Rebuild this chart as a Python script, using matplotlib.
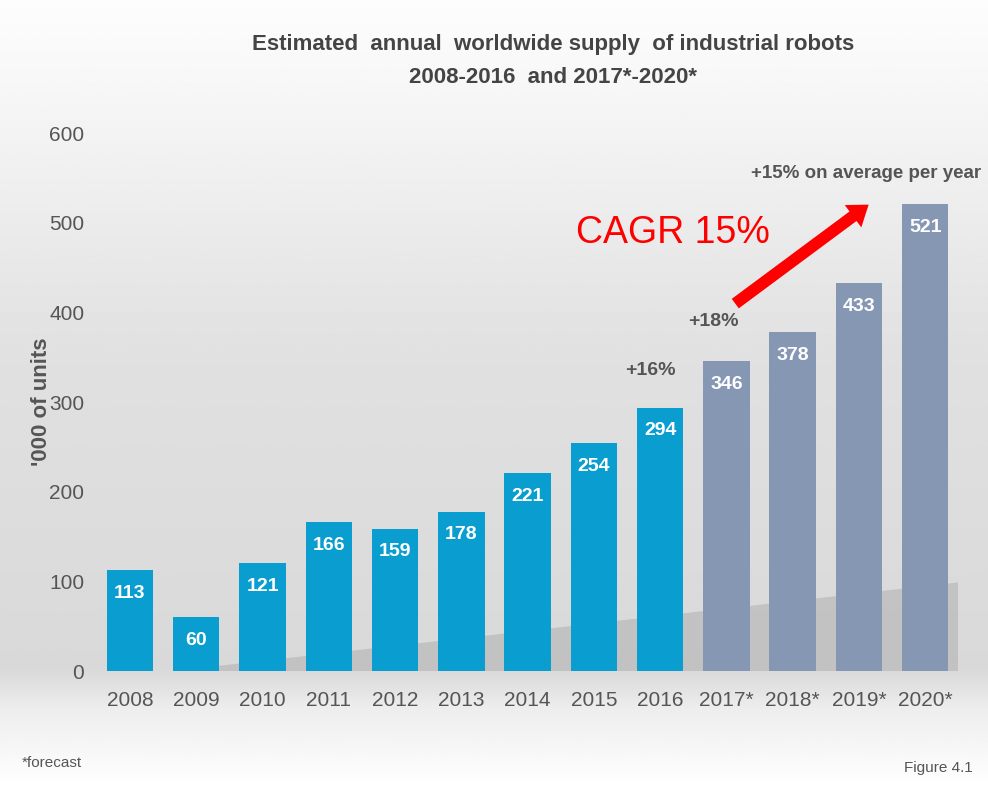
import numpy as np
import matplotlib
matplotlib.use("Agg")
import matplotlib.pyplot as plt

years = ["2008", "2009", "2010", "2011", "2012", "2013", "2014",
         "2015", "2016", "2017*", "2018*", "2019*", "2020*"]
units = [113, 60, 121, 166, 159, 178, 221, 254, 294, 346, 378, 433, 521]
forecast = [False] * 9 + [True] * 4
y_ticks = [0, 100, 200, 300, 400, 500, 600]

plt.rcParams['font.family'] = ['Liberation Sans', 'DejaVu Sans']

fig = plt.figure(figsize=(9.88, 7.87), dpi=100)

# soft grey background gradient behind everything
bg = fig.add_axes([0, 0, 1, 1], zorder=0)
rows = np.linspace(0, 1, 400)
shade = np.interp(rows, [0, 0.1, 0.45, 0.85, 0.9, 1.0],
                  [0.99, 0.97, 0.88, 0.85, 0.93, 1.0])
bg.imshow(np.tile(shade[:, None], (1, 10)), cmap="gray", vmin=0, vmax=1,
          aspect="auto", extent=[0, 1, 0, 1], origin="upper")
bg.axis("off")

ax = fig.add_axes([0.098, 0.147, 0.872, 0.684], zorder=1)
ax.patch.set_alpha(0)

x = np.arange(len(years))
colors = ["#8597B2" if f else "#0A9ED0" for f in forecast]

# diagonal shadow behind bars
ax.fill([0.6, 12.6, 12.6, 1.5], [0, 100, 0, 0], color="#a0a0a0", alpha=0.4,
        lw=0, zorder=1)

ax.bar(x, units, width=0.7, color=colors, zorder=2)
for xi, v in zip(x, units):
    ax.text(xi, v - 26, str(v), ha="center", va="center", color="white",
            fontsize=14, fontweight="bold", zorder=3)

ax.set_xlim(-0.5, len(years) - 0.5)
ax.set_ylim(0, 600)
ax.set_yticks(y_ticks)
ax.set_xticks(x)
ax.set_xticklabels(years)
ax.tick_params(length=0, labelsize=15, labelcolor="#555555", pad=14)
ax.tick_params(axis="y", pad=9)
for s in ax.spines.values():
    s.set_visible(False)
ax.set_ylabel("'000 of units", fontsize=16, fontweight="bold", color="#555555")
ax.yaxis.set_label_coords(-0.052, 0.5)

ax.text(7.85, 335, "+16%", ha="center", va="center", fontsize=14,
        fontweight="bold", color="#555555")
ax.text(8.8, 390, "+18%", ha="center", va="center", fontsize=14,
        fontweight="bold", color="#555555")
ax.text(11.1, 555, "+15% on average per year", ha="center", va="center",
        fontsize=13.5, fontweight="bold", color="#555555")
ax.text(8.2, 488, "CAGR 15%", ha="center", va="center", fontsize=27,
        color="#ff0000")
ax.annotate("", xy=(11.18, 522), xytext=(9.1, 408),
            arrowprops=dict(arrowstyle="simple,head_width=2.0,head_length=1.4,tail_width=0.85",
                            color="#ff0000", lw=0))

fig.text(0.56, 0.943, "Estimated  annual  worldwide supply  of industrial robots",
         ha="center", va="center", fontsize=16, fontweight="bold", color="#444444")
fig.text(0.56, 0.902, "2008-2016  and 2017*-2020*",
         ha="center", va="center", fontsize=16, fontweight="bold", color="#444444")
fig.text(0.022, 0.03, "*forecast", ha="left", va="center", fontsize=11,
         color="#555555")
fig.text(0.985, 0.024, "Figure 4.1", ha="right", va="center", fontsize=11,
         color="#555555")

fig.savefig("out.png", dpi=100)
